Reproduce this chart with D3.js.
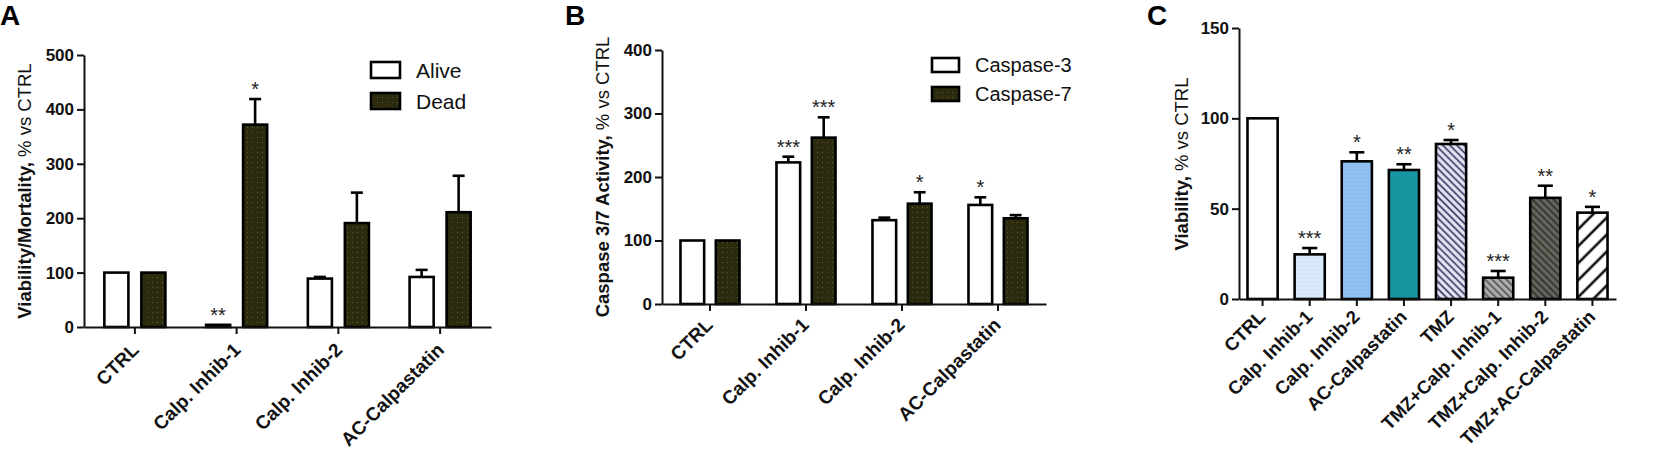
<!DOCTYPE html>
<html><head><meta charset="utf-8">
<script src="https://cdn.jsdelivr.net/npm/d3@7/dist/d3.min.js"></script>
<style>
html,body{margin:0;padding:0;background:#fff;}
svg{display:block;font-family:"Liberation Sans",Arial,sans-serif;}
</style></head>
<body>
<svg id="chart" width="1661" height="460"></svg>
<script>
// ---------- DATA ----------
const catsAB = ["CTRL", "Calp. Inhib-1", "Calp. Inhib-2", "AC-Calpastatin"];
const seriesA = ["Alive", "Dead"];
const aliveVals = [100, 4, 89, 92];
const aliveErr = [0, 0, 3, 13];
const aliveStars = ["", "**", "", ""];
const deadVals = [100, 372, 191, 211];
const deadErr = [0, 47, 56, 67];
const deadStars = ["", "*", "", ""];
const ticksA = [0, 100, 200, 300, 400, 500];

const seriesB = ["Caspase-3", "Caspase-7"];
const casp3Vals = [100, 223, 132, 156];
const casp3Err = [0, 9, 4, 12];
const casp3Stars = ["", "***", "", "*"];
const casp7Vals = [100, 262, 158, 135];
const casp7Err = [0, 32, 18, 5];
const casp7Stars = ["", "***", "*", ""];
const ticksB = [0, 100, 200, 300, 400];

const catsC = ["CTRL", "Calp. Inhib-1", "Calp. Inhib-2", "AC-Calpastatin", "TMZ",
  "TMZ+Calp. Inhib-1", "TMZ+Calp. Inhib-2", "TMZ+AC-Calpastatin"];
const valsC = [100, 24.7, 76.2, 71.4, 85.8, 11.8, 56, 47.8];
const errC = [0, 3.5, 5, 3.2, 2.2, 3.7, 6.7, 3.2];
const starsC = ["", "***", "*", "**", "*", "***", "**", "*"];
const ticksC = [0, 50, 100, 150];

// ---------- SETUP ----------
const svg = d3.select("#chart");
const defs = svg.append("defs");

function dotPattern(id, base, dot, sp) {
  const p = defs.append("pattern").attr("id", id).attr("patternUnits", "userSpaceOnUse")
    .attr("width", sp).attr("height", sp);
  p.append("rect").attr("width", sp).attr("height", sp).attr("fill", base);
  p.append("rect").attr("x", sp / 2 - 0.5).attr("y", sp / 2 - 0.5).attr("width", 1).attr("height", 1).attr("fill", dot);
}
function hatchPattern(id, base, line, sp, w, angle) {
  const p = defs.append("pattern").attr("id", id).attr("patternUnits", "userSpaceOnUse")
    .attr("width", sp).attr("height", sp).attr("patternTransform", `rotate(${angle})`);
  p.append("rect").attr("width", sp).attr("height", sp).attr("fill", base);
  p.append("line").attr("x1", sp / 2).attr("x2", sp / 2).attr("y1", 0).attr("y2", sp)
    .attr("stroke", line).attr("stroke-width", w);
}
dotPattern("pDead", "#2c2b0e", "#5a5838", 5);
dotPattern("pLight", "#d9ebfb", "#b9d3ec", 4);
dotPattern("pBlue", "#8fc1f3", "#7daee2", 4);
dotPattern("pTeal", "#1897a3", "#0f8793", 4);
hatchPattern("hTMZ", "#e8e8f6", "#2a2a55", 5, 1.6, -45);
hatchPattern("hGray", "#b0b0b0", "#4a4a4a", 5, 1.6, -45);
hatchPattern("hDark", "#65675e", "#2a2b26", 5, 1.6, -45);
hatchPattern("hWhite", "#ffffff", "#111111", 12, 2.6, 45);

const fillsC = ["#ffffff", "url(#pLight)", "url(#pBlue)", "url(#pTeal)", "url(#hTMZ)",
  "url(#hGray)", "url(#hDark)", "url(#hWhite)"];

const INK = "#111";

function drawAxes(g, x0, y, ticks, cats, axisY, lblOffset, lblFont) {
  const ya = g.append("g").attr("transform", `translate(${x0.range()[0]},0)`)
    .call(d3.axisLeft(y).tickValues(ticks).tickSize(7).tickPadding(3).tickSizeOuter(0));
  ya.select(".domain").attr("stroke", INK).attr("stroke-width", 2);
  ya.selectAll(".tick line").attr("stroke", INK).attr("stroke-width", 2);
  ya.selectAll(".tick text").attr("font-size", 17).attr("font-weight", "bold").attr("fill", INK)
    .attr("font-family", "Liberation Sans, Arial, sans-serif");
  const xa = g.append("g").attr("transform", `translate(0,${axisY})`)
    .call(d3.axisBottom(x0).tickSize(7).tickSizeOuter(0).tickFormat(""));
  xa.select(".domain").attr("stroke", INK).attr("stroke-width", 2);
  xa.selectAll(".tick line").attr("stroke", INK).attr("stroke-width", 2);
  g.append("g").selectAll("text").data(cats).join("text")
    .attr("transform", d => `translate(${x0(d) + x0.bandwidth() / 2 + lblOffset[0]},${axisY + lblOffset[1]}) rotate(-45)`)
    .attr("text-anchor", "end").attr("font-size", lblFont).attr("font-weight", "bold").attr("fill", INK)
    .text(d => d);
}

function drawBars(g, data, y) {
  g.append("g").selectAll("rect").data(data).join("rect")
    .attr("x", d => d.x).attr("width", d => d.w)
    .attr("y", d => y(d.v)).attr("height", d => y(0) - y(d.v))
    .attr("fill", d => d.fill).attr("stroke", "#000").attr("stroke-width", 2.6);
  const eb = g.append("g").attr("stroke", "#000").attr("stroke-width", 2.6);
  data.filter(d => d.e > 0).forEach(d => {
    const cx = d.x + d.w / 2;
    eb.append("line").attr("x1", cx).attr("x2", cx).attr("y1", y(d.v)).attr("y2", y(d.v + d.e));
    eb.append("line").attr("x1", cx - d.w / 4).attr("x2", cx + d.w / 4).attr("y1", y(d.v + d.e)).attr("y2", y(d.v + d.e));
  });
  g.append("g").selectAll("text").data(data.filter(d => d.star)).join("text")
    .attr("x", d => d.x + d.w / 2).attr("y", d => y(d.v + d.e) - 3)
    .attr("text-anchor", "middle").attr("font-size", 20).attr("fill", "#222")
    .text(d => d.star);
}

function yLabel(g, x, cy, boldPart, normalPart) {
  const t = g.append("text").attr("transform", `translate(${x},${cy}) rotate(-90)`)
    .attr("text-anchor", "middle").attr("font-size", 18.5).attr("fill", INK);
  t.append("tspan").attr("font-weight", "bold").text(boldPart);
  t.append("tspan").text(" " + normalPart);
}

function legend(g, x, y, names, fills, boxW, boxH, gap, font) {
  names.forEach((n, i) => {
    g.append("rect").attr("x", x).attr("y", y + i * gap).attr("width", boxW).attr("height", boxH)
      .attr("fill", fills[i]).attr("stroke", "#000").attr("stroke-width", 2.6);
    g.append("text").attr("x", x + boxW + 16).attr("y", y + i * gap + boxH / 2 + font * 0.36)
      .attr("font-size", font).attr("fill", INK).text(n);
  });
}

// ---------- PANEL A ----------
{
  const g = svg.append("g");
  const y = d3.scaleLinear().domain([0, 500]).range([327, 55]);
  const x0 = d3.scaleBand().domain(catsAB).range([84, 491]).paddingInner(0.4).paddingOuter(0.2);
  const x1 = d3.scaleBand().domain(seriesA).range([0, x0.bandwidth()]).paddingInner(0.35);
  const data = [];
  catsAB.forEach((c, i) => {
    data.push({x: x0(c) + x1("Alive"), w: x1.bandwidth(), v: aliveVals[i], e: aliveErr[i], fill: "#fff", star: aliveStars[i]});
    data.push({x: x0(c) + x1("Dead"), w: x1.bandwidth(), v: deadVals[i], e: deadErr[i], fill: "url(#pDead)", star: deadStars[i]});
  });
  drawBars(g, data, y);
  drawAxes(g, x0, y, ticksA, catsAB, 327, [5, 24], 19);
  yLabel(g, 31, 191, "Viability/Mortality,", "% vs CTRL");
  legend(g, 371, 62, seriesA, ["#fff", "url(#pDead)"], 29, 16, 31, 21);
  g.append("text").attr("x", 0).attr("y", 25).attr("font-size", 28).attr("font-weight", "bold").text("A");
}

// ---------- PANEL B ----------
{
  const g = svg.append("g");
  const y = d3.scaleLinear().domain([0, 400]).range([304, 50]);
  const x0 = d3.scaleBand().domain(catsAB).range([662, 1046]).paddingInner(0.385).paddingOuter(0.1925);
  const x1 = d3.scaleBand().domain(seriesB).range([0, x0.bandwidth()]).paddingInner(0.33);
  const data = [];
  catsAB.forEach((c, i) => {
    data.push({x: x0(c) + x1("Caspase-3"), w: x1.bandwidth(), v: casp3Vals[i], e: casp3Err[i], fill: "#fff", star: casp3Stars[i]});
    data.push({x: x0(c) + x1("Caspase-7"), w: x1.bandwidth(), v: casp7Vals[i], e: casp7Err[i], fill: "url(#pDead)", star: casp7Stars[i]});
  });
  drawBars(g, data, y);
  drawAxes(g, x0, y, ticksB, catsAB, 304, [4, 22], 19);
  yLabel(g, 609, 177, "Caspase 3/7 Activity,", "% vs CTRL");
  legend(g, 932, 58, seriesB, ["#fff", "url(#pDead)"], 27, 14, 29, 20);
  g.append("text").attr("x", 565).attr("y", 25).attr("font-size", 28).attr("font-weight", "bold").text("B");
}

// ---------- PANEL C ----------
{
  const g = svg.append("g");
  const y = d3.scaleLinear().domain([0, 150]).range([299, 28]);
  const x0 = d3.scaleBand().domain(catsC).range([1239, 1616]).paddingInner(0.36).paddingOuter(0.18);
  const data = catsC.map((c, i) => ({x: x0(c), w: x0.bandwidth(), v: valsC[i], e: errC[i], fill: fillsC[i], star: starsC[i]}));
  drawBars(g, data, y);
  drawAxes(g, x0, y, ticksC, catsC, 299, [4, 19], 18.5);
  yLabel(g, 1188, 164, "Viability,", "% vs CTRL");
  g.append("text").attr("x", 1147).attr("y", 25).attr("font-size", 28).attr("font-weight", "bold").text("C");
}
</script>
</body></html>
